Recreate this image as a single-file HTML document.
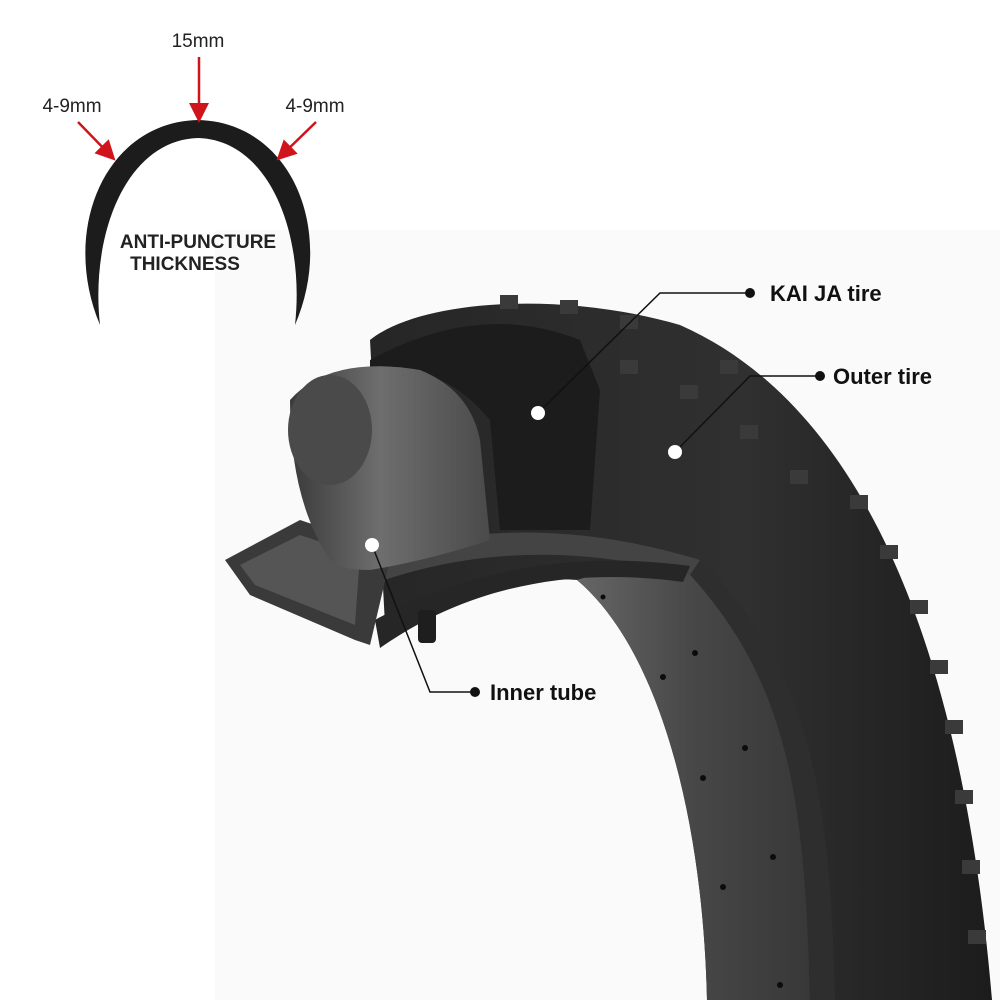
<!DOCTYPE html>
<html><head><meta charset="utf-8"><style>
html,body{margin:0;padding:0;background:#fff;}
svg{display:block;font-family:"Liberation Sans",sans-serif;}
</style></head><body>
<svg width="1000" height="1000" viewBox="0 0 1000 1000">
<defs>
<linearGradient id="tube" x1="0" y1="0" x2="1" y2="0">
<stop offset="0" stop-color="#3a3a3a"/><stop offset="0.45" stop-color="#6e6e6e"/><stop offset="1" stop-color="#4a4a4a"/>
</linearGradient>
<linearGradient id="tire" x1="0" y1="0" x2="1" y2="0">
<stop offset="0" stop-color="#262626"/><stop offset="0.6" stop-color="#303030"/><stop offset="1" stop-color="#1c1c1c"/>
</linearGradient>
<linearGradient id="face" x1="0" y1="0" x2="1" y2="0">
<stop offset="0" stop-color="#666"/><stop offset="0.5" stop-color="#474747"/><stop offset="1" stop-color="#383838"/>
</linearGradient>
<marker id="ah" markerWidth="8" markerHeight="8" refX="6" refY="4" orient="auto"><path d="M0,0 L8,4 L0,8 Z" fill="#d0141c"/></marker>
</defs>
<rect x="215" y="230" width="785" height="770" fill="#fafafa"/>
<path d="M100,325 C60,230 105,122 198,120 C291,122 336,230 295,325 C305,235 270,140 198,138 C126,140 90,235 100,325 Z" fill="#1c1c1c"/>
<text x="198" y="248" font-size="19" font-weight="bold" text-anchor="middle" fill="#222">ANTI-PUNCTURE</text>
<text x="185" y="270" font-size="19" font-weight="bold" text-anchor="middle" fill="#222">THICKNESS</text>
<text x="198" y="47" font-size="19" text-anchor="middle" fill="#222">15mm</text>
<text x="72" y="112" font-size="19" text-anchor="middle" fill="#222">4-9mm</text>
<text x="315" y="112" font-size="19" text-anchor="middle" fill="#222">4-9mm</text>
<line x1="199" y1="57" x2="199" y2="118" stroke="#d0141c" stroke-width="2.5" marker-end="url(#ah)"/>
<line x1="78" y1="122" x2="112" y2="157" stroke="#d0141c" stroke-width="2.5" marker-end="url(#ah)"/>
<line x1="316" y1="122" x2="280" y2="157" stroke="#d0141c" stroke-width="2.5" marker-end="url(#ah)"/>
<path d="M370,340 C420,300 560,290 680,325 C850,400 960,620 992,1000 L707,1000 C703,820 660,650 577,580 C520,575 440,600 385,625 Z" fill="url(#tire)"/>
<path d="M577,580 C660,650 703,820 707,1000 L810,1000 C805,800 790,680 683,567 C650,560 610,570 577,580 Z" fill="url(#face)"/>
<path d="M683,567 C790,680 805,800 810,1000 L835,1000 C830,790 810,670 700,560 Z" fill="#2e2e2e"/>
<g fill="#0c0c0c">
<circle cx="603" cy="597" r="2.5"/><circle cx="695" cy="653" r="3"/><circle cx="663" cy="677" r="3"/><circle cx="745" cy="748" r="3"/><circle cx="703" cy="778" r="3"/><circle cx="773" cy="857" r="3"/><circle cx="723" cy="887" r="3"/><circle cx="780" cy="985" r="3"/>
</g>
<g fill="#3a3a3a">
<rect x="500" y="295" width="18" height="14"/><rect x="560" y="300" width="18" height="14"/><rect x="620" y="315" width="18" height="14"/>
<rect x="620" y="360" width="18" height="14"/><rect x="680" y="385" width="18" height="14"/><rect x="720" y="360" width="18" height="14"/>
<rect x="740" y="425" width="18" height="14"/><rect x="790" y="470" width="18" height="14"/><rect x="850" y="495" width="18" height="14"/>
<rect x="880" y="545" width="18" height="14"/><rect x="910" y="600" width="18" height="14"/><rect x="930" y="660" width="18" height="14"/>
<rect x="945" y="720" width="18" height="14"/><rect x="955" y="790" width="18" height="14"/><rect x="962" y="860" width="18" height="14"/><rect x="968" y="930" width="18" height="14"/>
</g>
<path d="M370,360 Q480,300 580,340 L600,390 L590,530 L500,530 L490,420 Q440,360 370,370 Z" fill="#1c1c1c"/>
<path d="M360,560 Q520,505 700,560 L690,575 Q520,530 370,585 Z" fill="#444"/>
<path d="M375,620 C450,578 560,548 690,566 L683,582 C560,565 460,592 380,648 Z" fill="#262626"/>
<rect x="418" y="610" width="18" height="33" rx="4" fill="#1e1e1e"/>
<path d="M225,560 L300,520 L360,540 L390,560 L370,645 L355,640 L250,595 Z" fill="#3a3a3a"/>
<path d="M240,565 L300,535 L360,555 L355,625 L255,585 Z" fill="#555"/>
<path d="M290,400 Q330,355 420,370 Q470,390 480,440 L490,540 Q430,560 370,570 Q340,570 330,560 Q290,500 290,400 Z" fill="url(#tube)"/>
<ellipse cx="330" cy="430" rx="42" ry="55" fill="#4a4a4a"/>
<g stroke="#111" stroke-width="1.5" fill="none">
<polyline points="538,413 660,293 750,293"/>
<polyline points="675,452 750,376 820,376"/>
<polyline points="372,545 430,692 475,692"/>
</g>
<g fill="#fff"><circle cx="538" cy="413" r="7"/><circle cx="675" cy="452" r="7"/><circle cx="372" cy="545" r="7"/></g>
<g fill="#111"><circle cx="750" cy="293" r="5"/><circle cx="820" cy="376" r="5"/><circle cx="475" cy="692" r="5"/></g>
<text x="770" y="301" font-size="22" font-weight="bold" fill="#111">KAI JA tire</text>
<text x="833" y="384" font-size="22" font-weight="bold" fill="#111">Outer tire</text>
<text x="490" y="700" font-size="22" font-weight="bold" fill="#111">Inner tube</text>
</svg>
</body></html>
